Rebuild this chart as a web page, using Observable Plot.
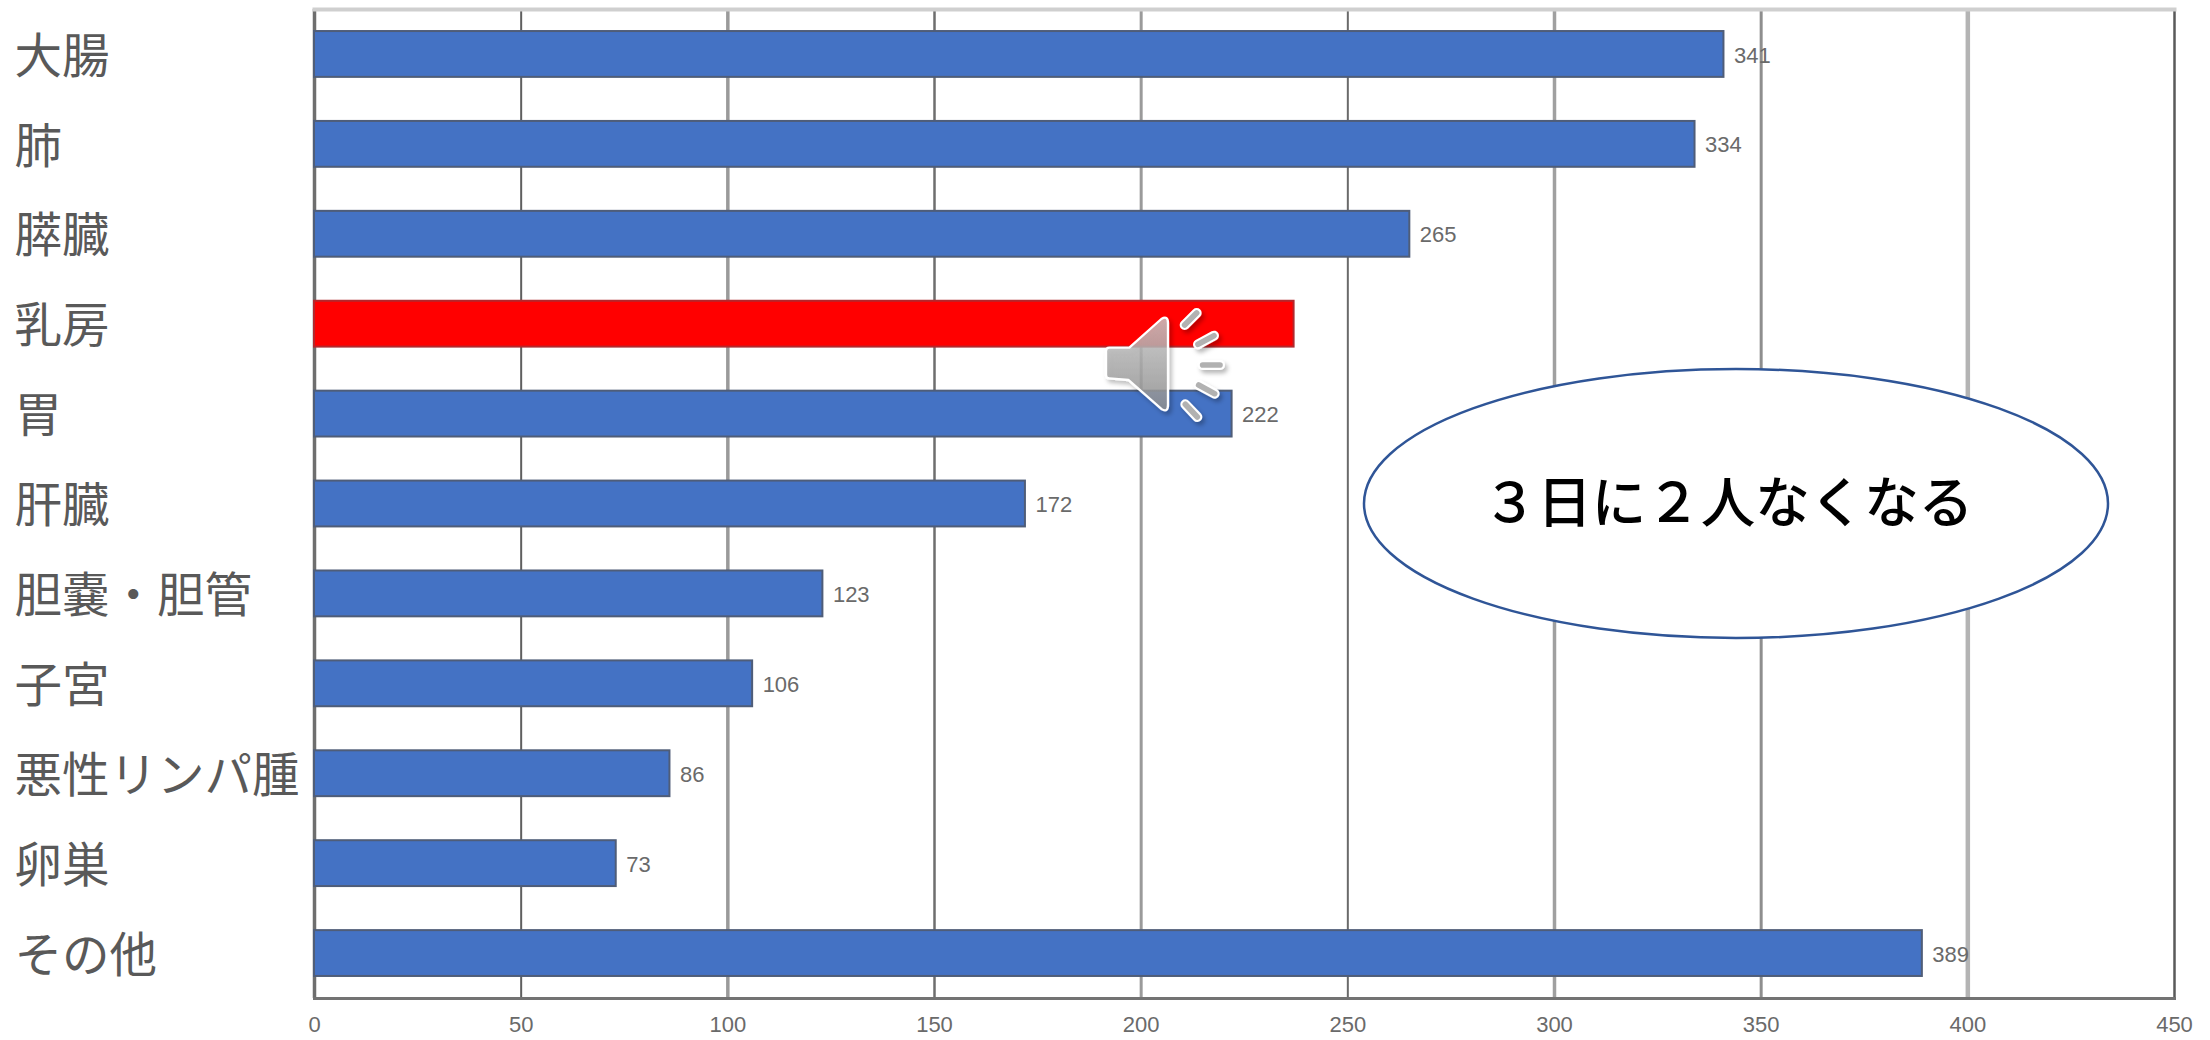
<!DOCTYPE html>
<html lang="ja">
<head>
<meta charset="utf-8">
<script src="https://cdn.jsdelivr.net/npm/d3@7"></script>
<script src="https://cdn.jsdelivr.net/npm/@observablehq/plot@0.6"></script>
<style>
  html, body { margin: 0; padding: 0; background: #fff; }
  svg { display: block; }
</style>
</head>
<body>
<div id="chart"></div>
<script>
// がん部位別の死亡数
const sites = ["大腸", "肺", "膵臓", "乳房", "胃", "肝臓", "胆嚢・胆管", "子宮", "悪性リンパ腫", "卵巣", "その他"];
const deaths = [341, 334, 265, 237, 222, 172, 123, 106, 86, 73, 389];
const highlighted = ["乳房"];
const unlabelled = ["乳房"];
const xTicks = [0, 50, 100, 150, 200, 250, 300, 350, 400, 450];
const calloutText = "３日に２人なくなる";

const rows = sites.map((site, i) => ({site, value: deaths[i]}));
const JP = '"Noto Sans CJK JP", sans-serif';

// Vertical gridlines alternate between thin dark and wide pale strokes
const gridLook = {
  50: ["#5f5f5f", 2], 100: ["#9a9a9a", 3.5], 150: ["#6e6e6e", 2.5], 200: ["#9a9a9a", 3],
  250: ["#6a6a6a", 2], 300: ["#a0a0a0", 3.5], 350: ["#8e8e8e", 3], 400: ["#b4b4b4", 4.5], 450: ["#5a5a5a", 2.5]
};

// Callout ellipse with its text, in frame pixels
function callout() {
  const g = d3.create("svg:g");
  g.append("ellipse")
    .attr("cx", 1736).attr("cy", 503.5).attr("rx", 372).attr("ry", 134.5)
    .attr("fill", "#fff").attr("stroke", "#2f5597").attr("stroke-width", 2.5);
  g.append("text")
    .attr("x", 1728).attr("y", 498)
    .attr("text-anchor", "middle").attr("dominant-baseline", "central")
    .attr("font-family", JP).attr("font-size", 54.5).attr("font-weight", 500).attr("fill", "#000")
    .text(calloutText);
  return g.node();
}

// Audio badge that sits over the bars
function speakerBadge() {
  const g = d3.create("svg:g").attr("transform", "translate(1090,295) scale(0.3333)");
  const defs = g.append("defs");
  const shadow = defs.append("filter").attr("id", "badge-shadow")
    .attr("x", "-20%").attr("y", "-20%").attr("width", "150%").attr("height", "150%");
  shadow.append("feDropShadow")
    .attr("dx", 8).attr("dy", 10).attr("stdDeviation", 6)
    .attr("flood-color", "#000").attr("flood-opacity", 0.28);
  const grad = defs.append("linearGradient").attr("id", "badge-fill")
    .attr("x1", 0).attr("x2", 0).attr("y1", 0).attr("y2", 1);
  grad.append("stop").attr("offset", "0").attr("stop-color", "#c9c9c9");
  grad.append("stop").attr("offset", "1").attr("stop-color", "#8f8f8f");

  const art = g.append("g").attr("filter", "url(#badge-shadow)");
  art.append("path")
    .attr("d", "M58 158 L118 158 L214 72 Q234 60 234 84 L234 330 Q234 354 214 342 L115 255 L58 250 Q48 250 48 240 L48 168 Q48 158 58 158 Z")
    .attr("fill", "url(#badge-fill)").attr("fill-opacity", 0.82)
    .attr("stroke", "#fff").attr("stroke-width", 7).attr("stroke-linejoin", "round");
  const waves = [[284, 90, 320, 54], [324, 148, 372, 122], [338, 210, 390, 210], [326, 270, 374, 296], [286, 328, 322, 366]];
  for (const [x1, y1, x2, y2] of waves) {
    art.append("line").attr("x1", x1).attr("y1", y1).attr("x2", x2).attr("y2", y2)
      .attr("stroke", "#fff").attr("stroke-width", 30).attr("stroke-linecap", "round");
    art.append("line").attr("x1", x1).attr("y1", y1).attr("x2", x2).attr("y2", y2)
      .attr("stroke", "#a9a9a9").attr("stroke-opacity", 0.9).attr("stroke-width", 17).attr("stroke-linecap", "round");
  }
  return g.node();
}

const chart = Plot.plot({
  width: 2210,
  height: 1040,
  marginLeft: 314,
  marginRight: 36,
  marginTop: 9,
  marginBottom: 42,
  style: {background: "#fff"},
  x: {domain: [0, 450], axis: null},
  y: {domain: sites, paddingInner: 0.49, paddingOuter: 0.245, round: false, axis: null},
  marks: [
    // Frame and gridlines
    Plot.ruleX(xTicks.filter(d => d > 0), {
      x: d => d,
      stroke: d => gridLook[d][0],
      strokeWidth: d => gridLook[d][1]
    }),
    Plot.ruleX([0], {stroke: "#6e6e6e", strokeWidth: 3.5}),
    Plot.frame({anchor: "top", stroke: "#cfcfcf", strokeWidth: 4}),
    Plot.frame({anchor: "bottom", stroke: "#737373", strokeWidth: 3}),

    // Bars
    Plot.barX(rows, {
      x: "value",
      y: "site",
      fill: d => highlighted.includes(d.site) ? "#ff0000" : "#4472c4",
      stroke: d => highlighted.includes(d.site) ? "#b3282d" : "#4f5d78",
      strokeWidth: 2
    }),

    // Value labels
    Plot.text(rows.filter(d => !unlabelled.includes(d.site)), {
      x: "value",
      y: "site",
      text: d => String(d.value),
      textAnchor: "start",
      dx: 10,
      dy: 1,
      fill: "#6a6a6a",
      fontSize: 22,
      fontFamily: '"Liberation Sans", sans-serif'
    }),

    // Category labels, left-aligned near the page edge
    Plot.text(sites, {
      y: d => d,
      text: d => d,
      frameAnchor: "left",
      textAnchor: "start",
      dx: -300,
      dy: 3,
      fill: "#595959",
      fontSize: 47.5,
      fontFamily: JP
    }),

    Plot.axisX(xTicks, {
      anchor: "bottom",
      tickSize: 0,
      tickPadding: 18,
      fontSize: 22,
      color: "#6a6a6a",
      fontFamily: '"Liberation Sans", sans-serif',
      label: null
    }),

    callout,
    speakerBadge
  ]
});

document.getElementById("chart").append(chart);
</script>
</body>
</html>
